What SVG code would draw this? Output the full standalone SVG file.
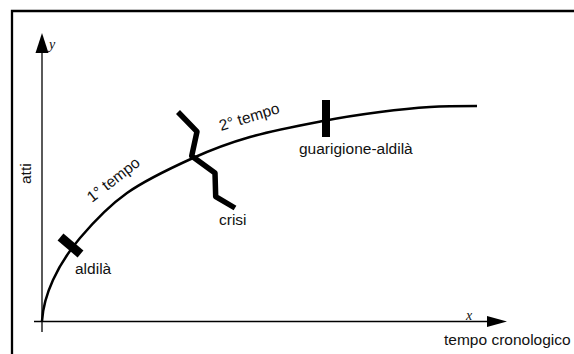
<svg xmlns="http://www.w3.org/2000/svg" width="574" height="354" viewBox="0 0 574 354">
<style>
.lbl{font-family:"Liberation Sans",Arial,sans-serif;font-size:15.5px;fill:#111}
.var{font-family:"Liberation Serif","Times New Roman",serif;font-style:italic;font-size:14px;fill:#111}
.axis{stroke:#000;stroke-width:1.3;fill:none}
</style>
<rect width="574" height="354" fill="#fff"/>
<path d="M12,360 V11 H580" fill="none" stroke="#000" stroke-width="2.3"/>
<g id="connectors">
<g id="y-axis">
<line class="axis" x1="42" y1="332" x2="42" y2="52"/>
<polygon points="42,33 35.5,53 48.5,53" fill="#000"/>
</g>
<g id="x-axis">
<line class="axis" x1="34" y1="321.5" x2="488" y2="321.5"/>
<polygon points="507,321.5 487,316 487,327" fill="#000"/>
</g>
<path id="curve" d="M42,321 C43,305 46.7,293.8 53,280 C59.3,266.2 67.7,252.5 80,238 C92.3,223.5 108.2,206.3 127,193 C145.8,179.7 172.5,167.3 193,158 C213.5,148.7 228.3,143.2 250,137 C271.7,130.8 301.3,125.2 323,121 C344.7,116.8 362.2,114.3 380,112 C397.8,109.7 413.8,108 430,107 C446.2,106 469,106 477,106" fill="none" stroke="#000" stroke-width="2.5"/>
</g>
<g id="aldila">
<line x1="60.5" y1="237" x2="80.5" y2="254" stroke="#000" stroke-width="9"/>
<text class="lbl" x="75" y="274">aldilà</text>
</g>
<g id="crisi">
<polyline points="178,112 197,131.7 191.7,156 215,173 215.7,196.7 235,208" fill="none" stroke="#000" stroke-width="5.5" stroke-linejoin="round"/>
<text class="lbl" x="219" y="225">crisi</text>
</g>
<g id="guarigione">
<rect x="322" y="100" width="8" height="37" fill="#000"/>
<text class="lbl" x="299" y="154">guarigione-aldilà</text>
</g>
<g id="labels">
<text class="lbl" transform="translate(92,203) rotate(-38)">1° tempo</text>
<text class="lbl" transform="translate(221,131) rotate(-17)">2° tempo</text>
<text class="lbl" transform="translate(31,184) rotate(-90)">atti</text>
<text class="lbl" x="444" y="345">tempo cronologico</text>
<text class="var" x="49" y="49">y</text>
<text class="var" x="466" y="320">x</text>
</g>
</svg>
